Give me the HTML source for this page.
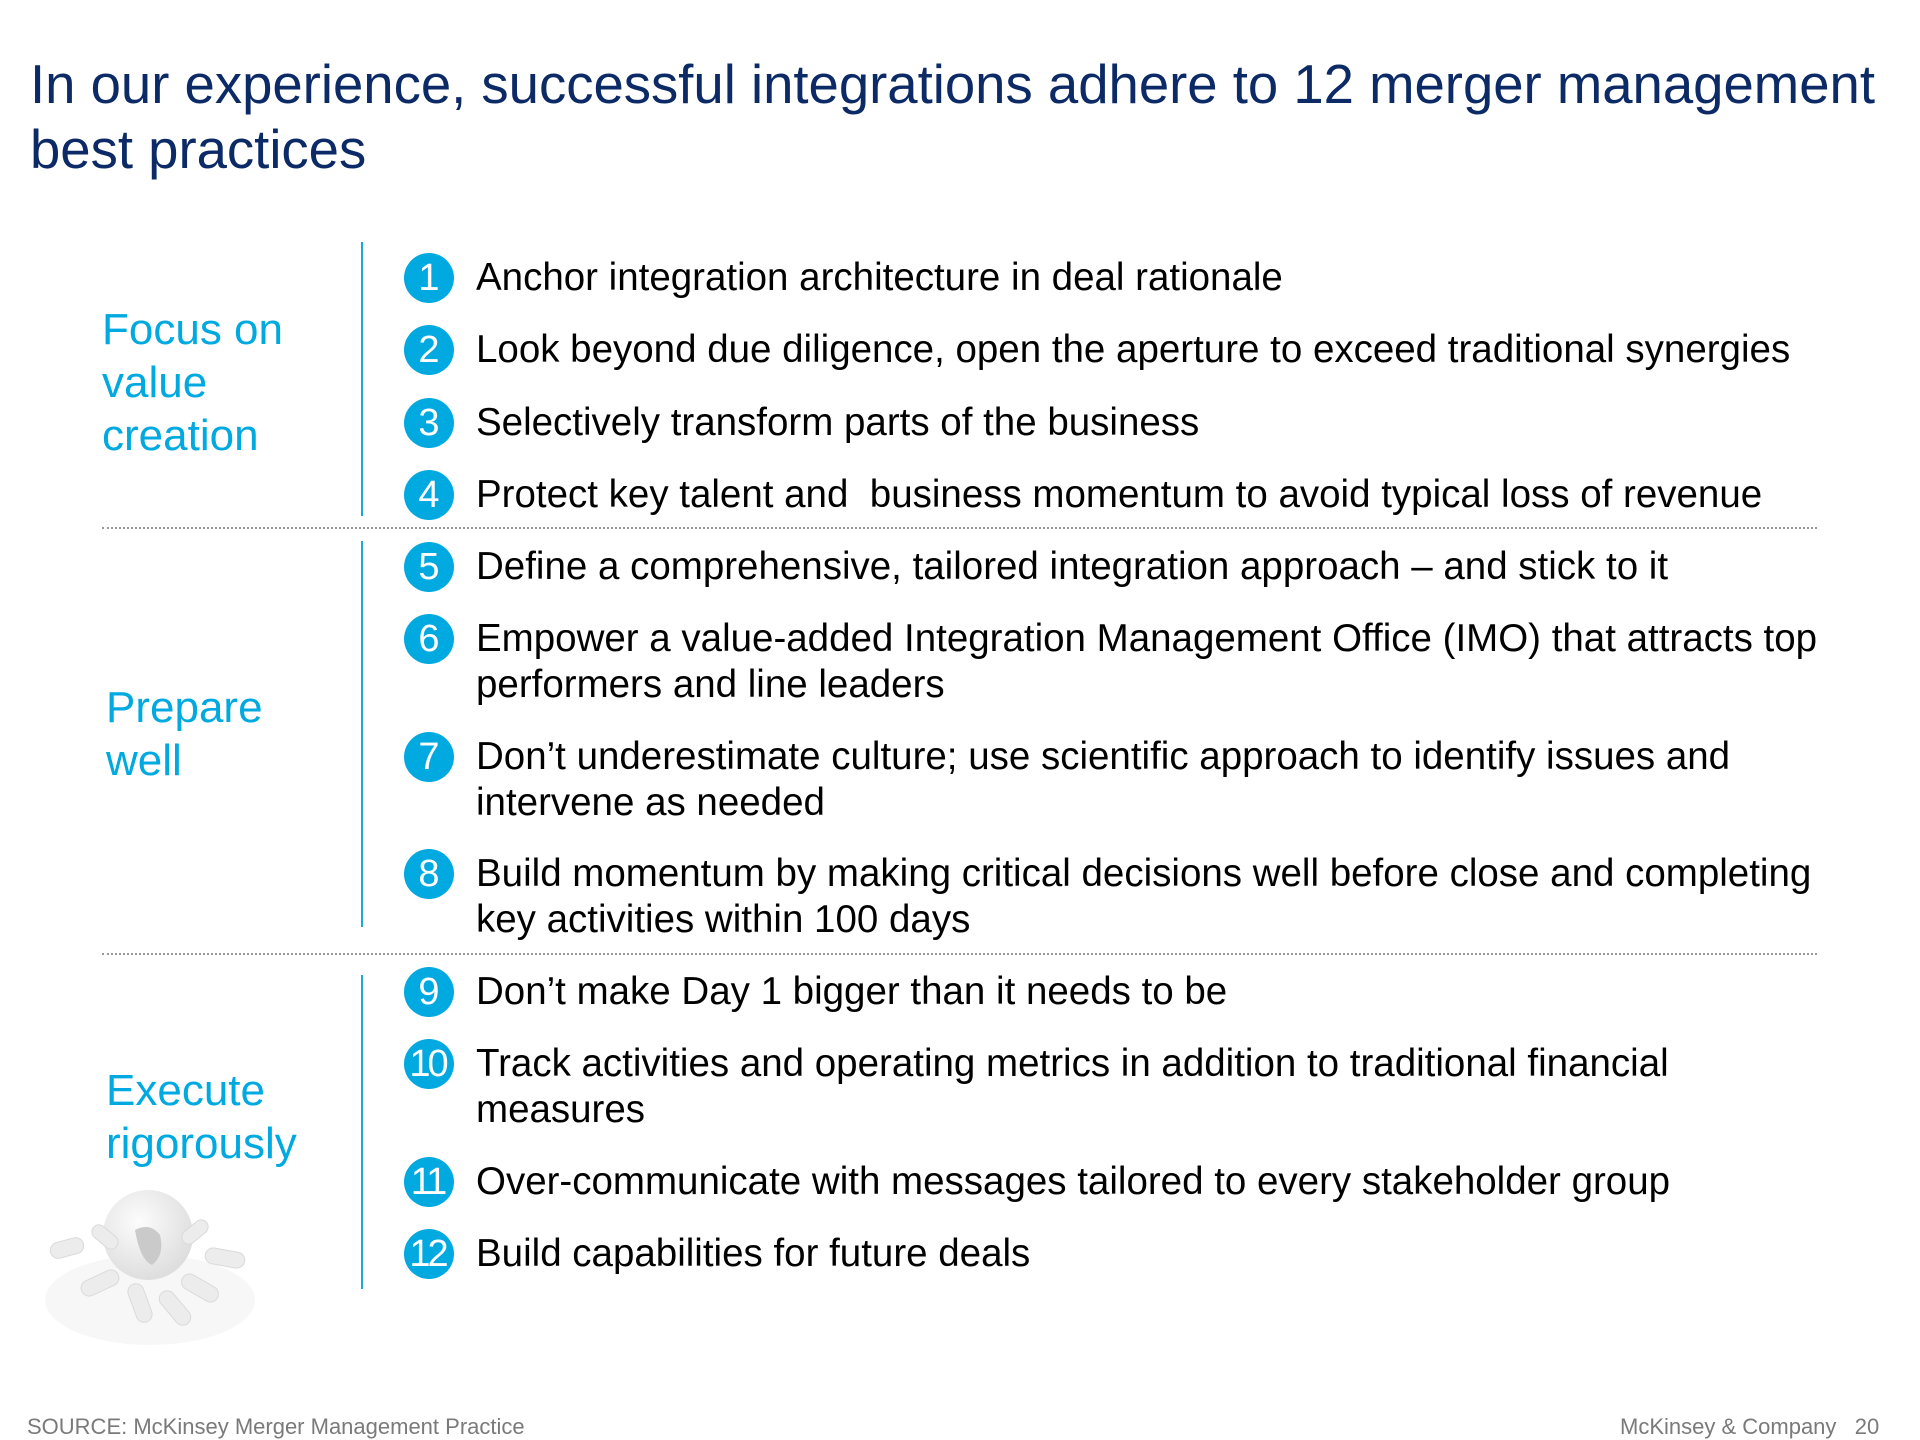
<!DOCTYPE html>
<html><head><meta charset="utf-8"><style>
body{margin:0;width:1920px;height:1439px;background:#fff;position:relative;overflow:hidden;font-family:"Liberation Sans",Arial,sans-serif}
.t{position:absolute;left:30px;top:52px;font-size:54.5px;line-height:65px;color:#0b2a66;white-space:nowrap}
.lbl{position:absolute;left:102px;font-size:44px;line-height:53px;color:#00a9e0}
.vl{position:absolute;left:361px;width:2px;background:#1aa6df}
.dl{position:absolute;left:102px;width:1715px;border-top:2px dotted #999}
.c{position:absolute;left:404px;width:50px;height:50px;border-radius:50%;background:#00a9e0;color:#fff;font-size:38px;line-height:50px;text-align:center;letter-spacing:-3px;text-indent:-3px}
.it{position:absolute;left:476px;font-size:38.5px;line-height:46px;color:#000;white-space:nowrap}
.f{position:absolute;top:1414px;font-size:22px;color:#7a7a7a}
</style></head><body>
<div class="t">In our experience, successful integrations adhere to 12 merger management<br>best practices</div>

<div class="lbl" style="top:303px">Focus on<br>value<br>creation</div>
<div class="lbl" style="top:681px;left:106px">Prepare<br>well</div>
<div class="lbl" style="top:1064px;left:106px">Execute<br>rigorously</div>

<div class="vl" style="top:242px;height:274px"></div>
<div class="vl" style="top:541px;height:386px"></div>
<div class="vl" style="top:975px;height:314px"></div>
<div class="dl" style="top:527px"></div>
<div class="dl" style="top:953px"></div>

<div class="c" style="top:253px">1</div><div class="it" style="top:255px">Anchor integration architecture in deal rationale</div>
<div class="c" style="top:325px">2</div><div class="it" style="top:327px">Look beyond due diligence, open the aperture to exceed traditional synergies</div>
<div class="c" style="top:398px">3</div><div class="it" style="top:400px">Selectively transform parts of the business</div>
<div class="c" style="top:470px">4</div><div class="it" style="top:472px">Protect key talent and&nbsp; business momentum to avoid typical loss of revenue</div>
<div class="c" style="top:542px">5</div><div class="it" style="top:544px">Define a comprehensive, tailored integration approach – and stick to it</div>
<div class="c" style="top:614px">6</div><div class="it" style="top:616px">Empower a value-added Integration Management Office (IMO) that attracts top<br>performers and line leaders</div>
<div class="c" style="top:732px">7</div><div class="it" style="top:734px">Don’t underestimate culture; use scientific approach to identify issues and<br>intervene as needed</div>
<div class="c" style="top:849px">8</div><div class="it" style="top:851px">Build momentum by making critical decisions well before close and completing<br>key activities within 100 days</div>
<div class="c" style="top:967px">9</div><div class="it" style="top:969px">Don’t make Day 1 bigger than it needs to be</div>
<div class="c" style="top:1039px">10</div><div class="it" style="top:1041px">Track activities and operating metrics in addition to traditional financial<br>measures</div>
<div class="c" style="top:1157px">11</div><div class="it" style="top:1159px">Over-communicate with messages tailored to every stakeholder group</div>
<div class="c" style="top:1229px">12</div><div class="it" style="top:1231px">Build capabilities for future deals</div>

<svg style="position:absolute;left:30px;top:1170px" width="250" height="190">
<defs><radialGradient id="g" cx="40%" cy="35%" r="65%"><stop offset="0" stop-color="#fcfcfc"/><stop offset="1" stop-color="#dedede"/></radialGradient></defs>
<ellipse cx="120" cy="130" rx="105" ry="45" fill="#f7f7f7"/>
<circle cx="118" cy="65" r="45" fill="url(#g)"/>
<path d="M105 60 q15 -8 25 5 q5 20 -8 30 q-12 -5 -17 -35z" fill="#cacaca"/>
<g fill="#ececec" stroke="#dadada">
<rect x="20" y="70" width="34" height="16" rx="8" transform="rotate(-15 37 78)"/>
<rect x="175" y="80" width="40" height="16" rx="8" transform="rotate(10 195 88)"/>
<rect x="50" y="105" width="40" height="16" rx="8" transform="rotate(-25 70 113)"/>
<rect x="150" y="110" width="40" height="16" rx="8" transform="rotate(30 170 118)"/>
<rect x="90" y="125" width="40" height="16" rx="8" transform="rotate(70 110 133)"/>
<rect x="125" y="130" width="40" height="16" rx="8" transform="rotate(50 145 138)"/>
<rect x="60" y="60" width="30" height="14" rx="7" transform="rotate(40 75 67)"/>
<rect x="150" y="55" width="30" height="14" rx="7" transform="rotate(-40 165 62)"/>
</g>
</svg>

<div class="f" style="left:27px">SOURCE: McKinsey Merger Management Practice</div>
<div class="f" style="left:1620px">McKinsey &amp; Company&nbsp;&nbsp;&nbsp;20</div>
</body></html>
